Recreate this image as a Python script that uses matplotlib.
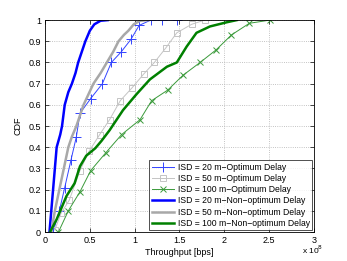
import matplotlib
matplotlib.use("Agg")
import matplotlib.pyplot as plt

# throughput in units of 1e8 bps
opt20_x = [0.09, 0.16, 0.22, 0.29, 0.35, 0.39, 0.51, 0.64, 0.74, 0.85, 0.96, 1.05, 1.18, 1.30, 1.47]
opt20_y = [0.0, 0.10, 0.21, 0.34, 0.45, 0.56, 0.63, 0.70, 0.80, 0.85, 0.91, 0.975, 1.0, 1.0, 1.0]

opt50_x = [0.11, 0.18, 0.27, 0.39, 0.49, 0.61, 0.72, 0.84, 0.97, 1.10, 1.22, 1.35, 1.47, 1.635, 1.78]
opt50_y = [0.01, 0.09, 0.15, 0.29, 0.38, 0.46, 0.53, 0.62, 0.68, 0.745, 0.80, 0.87, 0.94, 0.98, 1.0]

opt100_x = [0.15, 0.26, 0.39, 0.51, 0.68, 0.855, 1.06, 1.19, 1.37, 1.54, 1.73, 1.91, 2.08, 2.28, 2.51]
opt100_y = [0.0, 0.10, 0.19, 0.29, 0.375, 0.46, 0.53, 0.62, 0.67, 0.74, 0.80, 0.86, 0.93, 0.985, 1.0]

non20_x = [0.05, 0.07, 0.09, 0.11, 0.13, 0.17, 0.19, 0.22, 0.26, 0.30, 0.34, 0.37, 0.41, 0.45, 0.50, 0.55, 0.62, 0.70]
non20_y = [0.0, 0.10, 0.20, 0.30, 0.40, 0.46, 0.50, 0.60, 0.66, 0.70, 0.75, 0.80, 0.85, 0.90, 0.95, 0.98, 0.997, 1.0]

non50_x = [0.07, 0.11, 0.16, 0.21, 0.26, 0.30, 0.35, 0.43, 0.54, 0.62, 0.69, 0.76, 0.82, 0.88, 0.93, 0.99, 1.06, 1.15]
non50_y = [0.0, 0.10, 0.20, 0.30, 0.40, 0.45, 0.50, 0.60, 0.70, 0.75, 0.80, 0.85, 0.90, 0.93, 0.95, 0.98, 0.997, 1.0]

non100_x = [0.056, 0.13, 0.24, 0.33, 0.39, 0.46, 0.56, 0.63, 0.72, 0.87, 1.02, 1.17, 1.36, 1.47, 1.58, 1.69, 1.84, 2.03, 2.14]
non100_y = [0.0, 0.06, 0.17, 0.23, 0.31, 0.36, 0.395, 0.43, 0.48, 0.575, 0.65, 0.72, 0.78, 0.80, 0.875, 0.94, 0.97, 0.99, 1.0]

labels = ["ISD = 20 m\u2212Optimum Delay", "ISD = 50 m\u2212Optimum Delay", "ISD = 100 m\u2212Optimum Delay",
          "ISD = 20 m\u2212Non\u2212optimum Delay", "ISD = 50 m\u2212Non\u2212optimum Delay",
          "ISD = 100 m\u2212Non\u2212optimum Delay"]

plt.rcParams["font.family"] = ["Liberation Sans", "DejaVu Sans"]
fig = plt.figure(figsize=(3.47, 2.61), dpi=100)
ax = fig.add_axes([0.1297, 0.111, 0.775, 0.812])

ax.plot(opt20_x, opt20_y, color="#3344ff", lw=0.7, marker="+", ms=7, mew=0.7, label=labels[0])
ax.plot(opt50_x, opt50_y, color="#c4c4c4", lw=0.7, marker="s", ms=5, mfc="none", mew=0.7, label=labels[1])
ax.plot(opt100_x, opt100_y, color="#3a9a3a", lw=0.7, marker="x", ms=5, mew=0.7, label=labels[2])
ax.plot(non20_x, non20_y, color="#0000ff", lw=1.8, label=labels[3])
ax.plot(non50_x, non50_y, color="#a8a8a8", lw=1.8, label=labels[4])
ax.plot(non100_x, non100_y, color="#008000", lw=1.8, label=labels[5])

ax.set_xlim(0, 3)
ax.set_ylim(0, 1)
ax.set_xticks([0, 0.5, 1, 1.5, 2, 2.5, 3])
ax.set_xticklabels(["0", "0.5", "1", "1.5", "2", "2.5", "3"])
ax.set_yticks([i / 10 for i in range(11)])
ax.set_yticklabels(["0", "0.1", "0.2", "0.3", "0.4", "0.5", "0.6", "0.7", "0.8", "0.9", "1"])
ax.tick_params(labelsize=6.5, direction="in", length=3, width=0.5, top=True, right=True, pad=3)
ax.grid(True, linestyle=":", color="#b0b0b0", lw=0.6)
for s in ax.spines.values():
    s.set_linewidth(0.6)

ax.set_xlabel("Throughput [bps]", fontsize=6.5, labelpad=2)
ax.set_ylabel("CDF", fontsize=6.5, labelpad=4)
fig.text(0.87, 0.025, r"x 10$^{8}$", fontsize=6)

ax.legend(loc="lower right", fontsize=6.2, frameon=True, fancybox=False, edgecolor="black",
          borderaxespad=0.2, handlelength=2.6, labelspacing=0.25, borderpad=0.3,
          handletextpad=0.4).get_frame().set_linewidth(0.6)

fig.savefig("out.png", dpi=100)
